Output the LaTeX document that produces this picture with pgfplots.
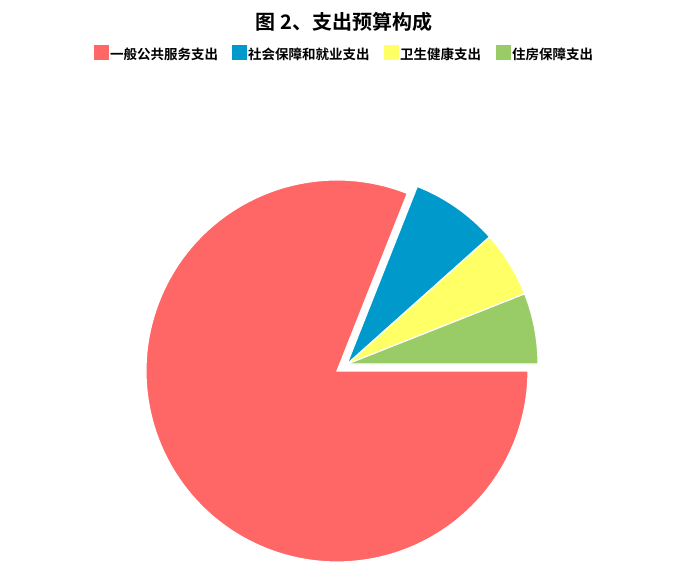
\documentclass[border=0pt]{standalone}
\usepackage{pgfplots}
\pgfplotsset{compat=1.18}
\usepackage{pgfplotstable}
\usepackage{fontspec}
\newfontfamily\cjk{Noto Sans CJK SC}[BoldFont={Noto Sans CJK SC Bold}]
\definecolor{cRed}{HTML}{FF6666}
\definecolor{cBlue}{HTML}{0099CC}
\definecolor{cYellow}{HTML}{FFFF66}
\definecolor{cGreen}{HTML}{99CC66}

\pgfplotstableread{
name value
red 81.0
blue 7.4
yellow 5.6
green 6.0
}\piedata
\pgfplotstablegetelem{0}{value}\of\piedata \let\vRed\pgfplotsretval
\pgfplotstablegetelem{1}{value}\of\piedata \let\vBlue\pgfplotsretval
\pgfplotstablegetelem{2}{value}\of\piedata \let\vYellow\pgfplotsretval
\pgfplotstablegetelem{3}{value}\of\piedata \let\vGreen\pgfplotsretval
\pgfmathsetmacro\aG{3.6*\vGreen}
\pgfmathsetmacro\aY{\aG+3.6*\vYellow}
\pgfmathsetmacro\aB{\aY+3.6*\vBlue}
\pgfmathsetmacro\aR{\aB+3.6*\vRed}

\begin{document}
\begin{tikzpicture}
\useasboundingbox (0,0) rectangle (700pt,582pt);
\begin{axis}[
  at={(0,0)}, anchor=origin,
  x=1pt, y=1pt, xmin=0, xmax=700, ymin=0, ymax=582,
  scale only axis, hide axis, clip=false]
% pie: small slices exploded as a group
\fill[cGreen, draw=white, line width=1.2pt] (axis cs:347,218) -- ++(0:191pt) arc[start angle=0, end angle=\aG, radius=191pt] -- cycle;
\fill[cYellow, draw=white, line width=1.2pt] (axis cs:347,218) -- ++(\aG:191pt) arc[start angle=\aG, end angle=\aY, radius=191pt] -- cycle;
\fill[cBlue, draw=white, line width=1.2pt] (axis cs:347,218) -- ++(\aY:191pt) arc[start angle=\aY, end angle=\aB, radius=191pt] -- cycle;
\fill[cRed, draw=white, line width=1.2pt] (axis cs:337,211) -- ++(\aB:191pt) arc[start angle=\aB, end angle=\aR, radius=191pt] -- cycle;
% title
\node[font=\cjk\bfseries\fontsize{20pt}{24pt}\selectfont, inner sep=0] at (axis cs:344,560) {图 2、支出预算构成};
% legend
\fill[cRed] (axis cs:94,522) rectangle (axis cs:109,537);
\node[anchor=west, inner sep=0, font=\cjk\bfseries\fontsize{13.5pt}{16pt}\selectfont] at (axis cs:110,528) {一般公共服务支出};
\fill[cBlue] (axis cs:232,522) rectangle (axis cs:247,537);
\node[anchor=west, inner sep=0, font=\cjk\bfseries\fontsize{13.5pt}{16pt}\selectfont] at (axis cs:248,528) {社会保障和就业支出};
\fill[cYellow] (axis cs:384,522) rectangle (axis cs:399,537);
\node[anchor=west, inner sep=0, font=\cjk\bfseries\fontsize{13.5pt}{16pt}\selectfont] at (axis cs:400,528) {卫生健康支出};
\fill[cGreen] (axis cs:496,522) rectangle (axis cs:511,537);
\node[anchor=west, inner sep=0, font=\cjk\bfseries\fontsize{13.5pt}{16pt}\selectfont] at (axis cs:512,528) {住房保障支出};
\end{axis}
\end{tikzpicture}
\end{document}
